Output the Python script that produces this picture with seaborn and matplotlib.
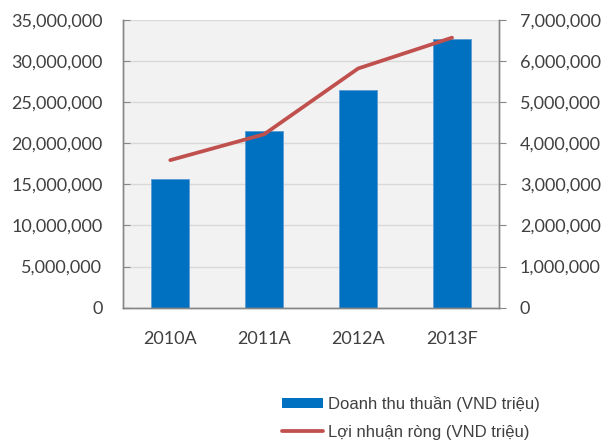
import matplotlib
matplotlib.use('Agg')
import matplotlib.pyplot as plt
from matplotlib.patches import Patch
from matplotlib.lines import Line2D
from matplotlib.ticker import FuncFormatter, MultipleLocator
import seaborn as sns
import pandas as pd

# Dữ liệu
years = ['2010A', '2011A', '2012A', '2013F']
revenue = [15620000, 21500000, 26450000, 32700000]   # Doanh thu thuần
profit = [3590000, 4220000, 5820000, 6570000]        # Lợi nhuận ròng

label_rev = 'Doanh thu thuần (VND triệu)'
label_pro = 'Lợi nhuận ròng (VND triệu)'

df = pd.DataFrame({'year': years, 'revenue': revenue, 'profit': profit})

sns.set_style('white')
plt.rcParams['font.family'] = ['Lato', 'DejaVu Sans']

text_col = '#404040'
spine_col = '#868686'

fig = plt.figure(figsize=(6.06, 4.44), dpi=100)
ax = fig.add_axes([123.3 / 606, 1 - 307.7 / 444, (499 - 123.3) / 606, (307.7 - 20) / 444])
ax.set_facecolor('#F2F2F2')

sns.barplot(data=df, x='year', y='revenue', ax=ax, color='#0070C0',
            width=0.4, edgecolor='#5B9BD5', linewidth=0.6, saturation=1, zorder=2)
ax.set_ylim(0, 35000000)
ax.yaxis.set_major_locator(MultipleLocator(5000000))
ax.yaxis.set_major_formatter(FuncFormatter(lambda v, p: f'{int(v):,}'))
ax.grid(axis='y', color='#D9D9D9', linewidth=1, zorder=0)
ax.set_axisbelow(True)

ax2 = ax.twinx()
sns.pointplot(data=df, x='year', y='profit', ax=ax2, color='#C0504D',
              markers='', linewidth=2.7, errorbar=None)
for ln in ax2.lines:
    ln.set_solid_capstyle('round')
    ln.set_solid_joinstyle('round')
ax2.set_ylim(0, 7000000)
ax2.yaxis.set_major_locator(MultipleLocator(1000000))
ax2.yaxis.set_major_formatter(FuncFormatter(lambda v, p: f'{int(v):,}'))
ax2.grid(False)

ax.set_xlim(-0.5, 3.5)
ax2.set_xlim(-0.5, 3.5)

for a in (ax, ax2):
    a.set_xlabel('')
    a.set_ylabel('')
    for s in a.spines.values():
        s.set_color(spine_col)
        s.set_linewidth(1)
    a.spines['top'].set_visible(False)

# Vạch chia trên trục x nằm giữa các nhóm
ax.set_xticks([i - 0.5 for i in range(len(years) + 1)], minor=True)
ax.tick_params(axis='x', which='minor', length=6, color=spine_col, width=1)
ax.tick_params(axis='x', which='major', length=0, pad=17, labelsize=13, labelcolor=text_col)
ax.tick_params(axis='y', length=5, direction='in', color=spine_col, pad=15,
               labelsize=13, labelcolor=text_col)
ax2.tick_params(axis='y', length=5, direction='out', color=spine_col, pad=10,
                labelsize=13, labelcolor=text_col)

handles = [Patch(facecolor='#0070C0', edgecolor='none'),
           Line2D([0], [0], color='#C0504D', linewidth=2.7, solid_capstyle='round')]
fig.legend(handles, [label_rev, label_pro], loc='upper left',
           bbox_to_anchor=(282 / 606, 1 - 396 / 444), frameon=False,
           prop={'family': 'Liberation Sans', 'size': 12}, labelcolor=text_col,
           handlelength=2.45, handleheight=0.5, handletextpad=0.3,
           labelspacing=0.75, borderpad=0, borderaxespad=0)

plt.savefig('out.png', dpi=100)
